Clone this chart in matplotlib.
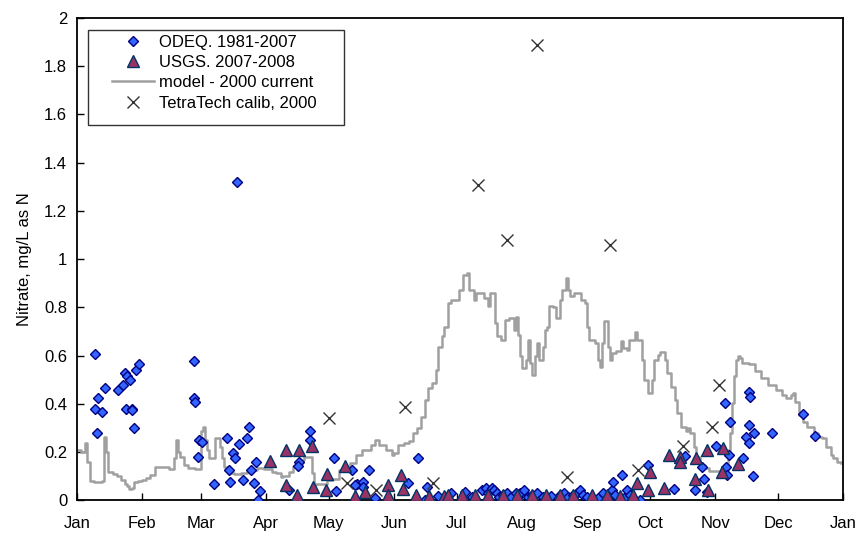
import numpy as np
import matplotlib.pyplot as plt
from matplotlib.patches import Rectangle
from matplotlib.ticker import FuncFormatter

plt.rcParams['font.family'] = ['Liberation Sans', 'DejaVu Sans']

# month ticks (day of year)
month_days = [0, 31, 59, 90, 120, 151, 181, 212, 243, 273, 304, 334, 365]
month_labels = ['Jan', 'Feb', 'Mar', 'Apr', 'May', 'Jun', 'Jul', 'Aug', 'Sep', 'Oct', 'Nov', 'Dec', 'Jan']

# ODEQ 1981-2007 (day of year, mg/L)
odeq_day = [8.6, 10.2, 8.6, 11.8, 9.7, 13.3, 19.4, 22.1, 22.9, 24.0, 25.3, 28.0, 29.5, 23.2, 26.0, 26.4, 27.2,
            55.9, 55.9, 56.2, 58.3, 59.8, 57.8, 65.4, 71.3, 72.4, 72.9, 74.2, 75.3, 77.3, 78.9, 81.2, 82.1,
            82.8, 84.3, 85.3, 86.1, 87.2, 76.2,
            101.0, 105.8, 105.5, 111.0, 111.0, 122.6, 123.3, 130.9, 133.3, 136.5, 136.5, 139.3, 142.0,
            157.6, 162.6, 166.6, 165.8, 132.5,
            172, 178, 185, 188, 193, 195, 196, 197.5, 198.5, 200, 201, 203, 205, 207, 209, 211, 213, 215,
            217, 219, 222, 226, 230, 232, 234, 236.5, 238, 239.7, 241, 243, 246.5, 248, 250.8, 253, 254.8,
            255.6, 256.5, 259.5, 260.5, 262, 263.5, 265, 268.3, 272.2,
            284.6, 289.7, 294.2, 297.7, 298.5, 300.0, 304.5, 308.8, 311.2, 310.7, 309.2, 309.8, 317.2,
            320.4, 320.7, 320.4, 318.9, 322.6, 320.4, 322.0, 331.0, 346.1, 351.7]
odeq_val = [0.607, 0.424, 0.38, 0.366, 0.281, 0.466, 0.459, 0.479, 0.528, 0.514, 0.50, 0.539, 0.566, 0.38, 0.38, 0.373, 0.30,
            0.579, 0.424, 0.41, 0.251, 0.244, 0.182, 0.067, 0.261, 0.127, 0.078, 0.196, 0.175, 0.234, 0.085, 0.261, 0.306,
            0.127, 0.074, 0.158, 0.0, 0.039, 1.32,
            0.044, 0.161, 0.143, 0.288, 0.251, 0.175, 0.039, 0.127, 0.068, 0.078, 0.057, 0.127, 0.01,
            0.074, 0.175, 0.057, 0.0, 0.064,
            0.02, 0.03, 0.035, 0.016, 0.044, 0.05, 0.03, 0.05, 0.044, 0.03, 0.016, 0.023, 0.03, 0.016, 0.03, 0.03, 0.044, 0.016,
            0.023, 0.03, 0.016, 0.02, 0.023, 0.03, 0.016, 0.023, 0.03, 0.044, 0.023, 0.016, 0.0, 0.01, 0.03, 0.016, 0.044,
            0.078, 0.023, 0.106, 0.01, 0.044, 0.023, 0.01, 0.0, 0.147,
            0.046, 0.185, 0.044, 0.14, 0.088, 0.037, 0.226, 0.406, 0.326, 0.189, 0.14, 0.106, 0.175,
            0.449, 0.427, 0.312, 0.262, 0.281, 0.237, 0.102, 0.279, 0.359, 0.268]

# USGS 2007-2008
usgs_day = [92.0, 99.6, 105.8, 111.8, 99.6, 105.0, 112.6, 119.0, 118.6, 127.7, 132.5, 137.2,
            148, 148, 154.4, 155.2, 161.5, 167.8, 175, 177, 183.3,
            189.6, 196, 203.1, 209.8, 216.6, 223.5, 230.2, 236.5, 245.3, 252.4, 258.7, 265.1, 266.7, 272.2, 273,
            279.8, 282.1, 287.3, 287.3, 294.9, 294.4, 300.8, 300.3, 308, 307.2, 314.8]
usgs_val = [0.165, 0.21, 0.21, 0.226, 0.064, 0.023, 0.057, 0.11, 0.044, 0.145, 0.02, 0.037,
            0.064, 0.023, 0.106, 0.046, 0.023, 0.019, 0.019, 0.023, 0.023,
            0.023, 0.023, 0.023, 0.023, 0.023, 0.023, 0.023, 0.023, 0.023, 0.023, 0.019, 0.023, 0.074, 0.044, 0.12,
            0.05, 0.189, 0.179, 0.158, 0.175, 0.088, 0.044, 0.21, 0.217, 0.12, 0.151]

# TetraTech calib, 2000
tt_day = [120.2, 128.5, 142.3, 156.3, 169.8, 191.2, 205, 219, 233.3, 254, 267.5, 288.9, 302.7, 306]
tt_val = [0.341, 0.074, 0.045, 0.388, 0.074, 1.306, 1.078, 1.887, 0.099, 1.057, 0.127, 0.226, 0.306, 0.478]

# model - 2000 current
model_day = [0, 2, 4, 5, 6, 8, 10, 12, 13, 14, 15, 17, 19, 21, 23, 24, 25, 26, 27, 29, 31, 33, 35, 37, 40, 43,
             44, 46, 47, 48, 49, 51, 53, 56, 58, 59, 60, 61, 62, 63, 65, 66, 67, 68, 69, 70, 72, 75, 78, 81,
             84, 86, 89, 93, 95, 97, 98, 101, 103, 106, 108, 110, 111, 112, 113, 114, 116, 119, 122, 125, 128,
             130, 133, 136, 140, 142, 144, 147, 150, 151, 153, 156, 158, 160, 162, 164, 166, 167, 169, 171,
             172, 174, 175, 177, 178, 181, 182, 184, 186, 187, 189, 190, 192, 194, 196, 197, 199, 200, 202,
             204, 206, 208, 209, 210, 211, 212, 214, 215, 216, 217, 218, 219, 220, 222, 223, 224, 225, 227,
             228, 230, 231, 233, 234, 235, 237, 239, 240, 242, 243, 244, 247, 248, 249, 250, 251, 252, 253,
             254, 255, 257, 259, 260, 262, 263, 266, 267, 269, 270, 272, 274, 275, 277, 278, 280, 281, 283,
             285, 286, 288, 290, 291, 292, 294, 295, 297, 299, 301, 305, 307, 309, 310, 311, 312, 313, 314,
             315, 316, 317, 320, 323, 326, 329, 333, 336, 338, 340, 341, 342, 344, 346, 348, 351, 353, 355,
             357, 359, 360, 362, 364]
model_val = [0.21, 0.20, 0.24, 0.16, 0.08, 0.075, 0.075, 0.08, 0.265, 0.20, 0.12, 0.11, 0.10, 0.085, 0.07, 0.06,
             0.046, 0.05, 0.078, 0.08, 0.085, 0.095, 0.106, 0.14, 0.14, 0.14,
             0.13, 0.175, 0.25, 0.20, 0.18, 0.147, 0.134, 0.13, 0.13, 0.29, 0.306, 0.25, 0.21, 0.175, 0.175,
             0.258, 0.258, 0.22, 0.175, 0.14, 0.113, 0.11, 0.113, 0.12,
             0.127, 0.134, 0.13, 0.12, 0.115, 0.096, 0.10, 0.12, 0.143, 0.168, 0.182, 0.18, 0.18, 0.113, 0.064,
             0.07, 0.07, 0.085, 0.09, 0.127, 0.134,
             0.154, 0.189, 0.21, 0.23, 0.25, 0.23, 0.21, 0.189, 0.195, 0.23, 0.237, 0.245, 0.279, 0.30, 0.348,
             0.417, 0.465, 0.486, 0.54,
             0.638, 0.68, 0.72, 0.818, 0.832, 0.83, 0.873, 0.936, 0.943, 0.873, 0.832, 0.86, 0.86, 0.84, 0.804,
             0.86, 0.735, 0.68, 0.666,
             0.749, 0.756, 0.707, 0.76, 0.687, 0.597, 0.549, 0.583, 0.666, 0.569, 0.521, 0.597, 0.652, 0.583,
             0.638, 0.707, 0.72, 0.804, 0.80,
             0.756, 0.832, 0.873, 0.922, 0.873, 0.846, 0.86, 0.86, 0.832, 0.818, 0.721, 0.666, 0.652, 0.583,
             0.555, 0.652, 0.742, 0.742, 0.638,
             0.583, 0.611, 0.62, 0.659, 0.632, 0.625, 0.666, 0.70, 0.666, 0.583, 0.50, 0.445, 0.50, 0.583,
             0.604, 0.617, 0.583, 0.528, 0.472,
             0.417, 0.362, 0.306, 0.29, 0.30, 0.279, 0.223, 0.182, 0.147, 0.134, 0.124, 0.124, 0.13, 0.127,
             0.21, 0.279, 0.403, 0.514, 0.583,
             0.60, 0.59, 0.569, 0.565, 0.535, 0.507, 0.479, 0.459, 0.438, 0.424, 0.438, 0.445, 0.41, 0.355,
             0.327, 0.306, 0.279, 0.265, 0.258,
             0.223, 0.189, 0.175, 0.161, 0.154]

fig = plt.figure(figsize=(8.57, 5.35), dpi=100)
ax = fig.add_axes([0.0898, 0.0645, 0.894, 0.902])

ax.plot(model_day, model_val, drawstyle='steps-post', color='#a0a0a0', lw=1.8,
        label='model - 2000 current', zorder=2)
ax.plot(odeq_day, odeq_val, linestyle='none', marker='D', ms=5.6, mfc='#3366ff', mec='#000080',
        mew=1.0, label='ODEQ. 1981-2007', zorder=3)
ax.plot(usgs_day, usgs_val, linestyle='none', marker='^', ms=8, mfc='#993366', mec='#003366',
        mew=1.0, label='USGS. 2007-2008', zorder=4)
ax.plot(tt_day, tt_val, linestyle='none', marker='x', ms=8, mec='#333333', mew=1.0,
        label='TetraTech calib, 2000', zorder=5)

ax.set_xlim(0, 365)
ax.set_ylim(0, 2)
ax.set_xticks(month_days)
ax.set_xticklabels(month_labels)
ax.set_yticks(np.arange(0, 2.01, 0.2))
ax.yaxis.set_major_formatter(FuncFormatter(lambda v, p: '%g' % round(v, 1)))
ax.tick_params(axis='both', direction='in', length=5, width=1, labelsize=12, colors='black')
ax.tick_params(axis='x', pad=11)
ax.tick_params(axis='y', pad=7)
ax.set_ylabel('Nitrate, mg/L as N', fontsize=12, labelpad=9)
for s in ax.spines.values():
    s.set_linewidth(1.3)
    s.set_color('black')

# legend frame drawn separately (wider left padding than matplotlib allows)
ax.add_patch(Rectangle((0.0144, 0.7782), 0.3342, 0.1969, transform=ax.transAxes,
                       facecolor='white', edgecolor='#333333', lw=1.0, zorder=6))
handles, labels = ax.get_legend_handles_labels()
order = [1, 2, 0, 3]
leg = ax.legend([handles[i] for i in order], [labels[i] for i in order],
                loc='upper left', bbox_to_anchor=(0.0457, 0.9654), borderaxespad=0,
                fontsize=12, frameon=False, handlelength=2.5, handletextpad=0.3,
                labelspacing=0.32, borderpad=0)
leg.set_zorder(7)

fig.savefig('out.png', dpi=100)
